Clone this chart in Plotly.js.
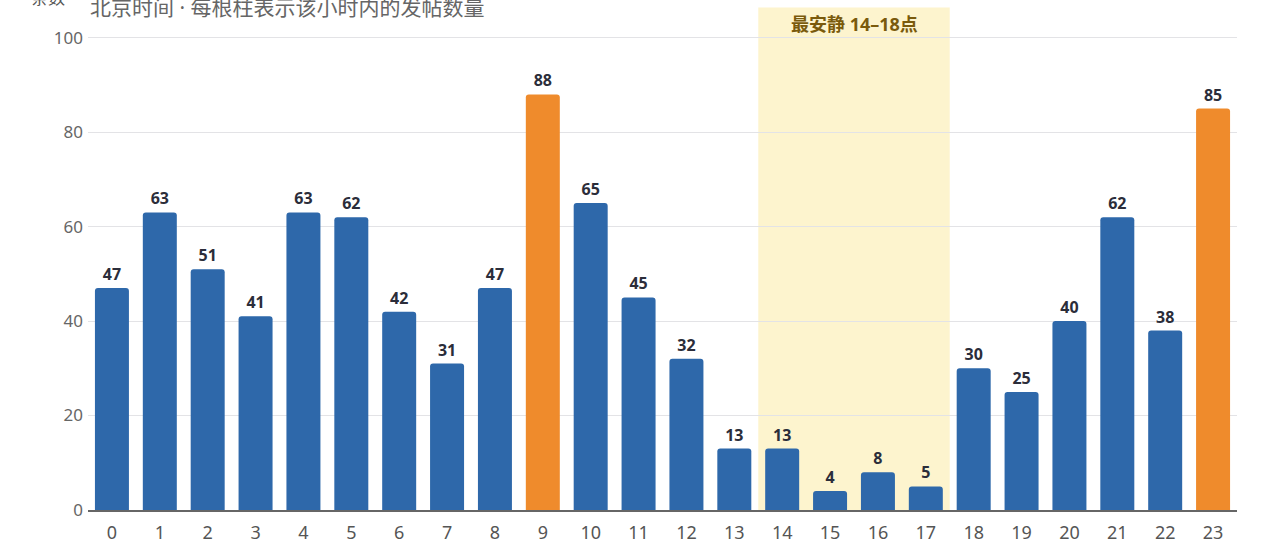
<!DOCTYPE html>
<html>
<head>
<meta charset="utf-8">
<script src="https://cdn.plot.ly/plotly-3.0.1.min.js"></script>
<style>
	html, body { margin: 0; padding: 0; background: #fff; overflow: hidden; }
	#plot { position: absolute; left: 0; top: -30px; width: 1280px; height: 620px; }
</style>
</head>
<body>
<div id="plot"></div>
<script>
const hours = ["0", "1", "2", "3", "4", "5", "6", "7", "8", "9", "10", "11",
	"12", "13", "14", "15", "16", "17", "18", "19", "20", "21", "22", "23"];
const posts = [47, 63, 51, 41, 63, 62, 42, 31, 47, 88, 65, 45,
	32, 13, 13, 4, 8, 5, 30, 25, 40, 62, 38, 85];
const peakHours = ["9", "23"];
const quietRange = [13.5, 17.5];
const quietTop = 106.4;
const quietLabel = "最安静 14–18点";
const yTicks = [0, 20, 40, 60, 80, 100];

const BLUE = "#2e68aa";
const ORANGE = "#ef8b2c";
const FONT = "Noto Sans, Noto Sans CJK SC, sans-serif";

const plotDiv = document.getElementById("plot");

const barColors = hours.map(h => (peakHours.includes(h) ? ORANGE : BLUE));

const data = [
	{
		type: "bar",
		x: hours,
		y: posts,
		marker: { color: barColors, cornerradius: 3 },
		text: posts.map(String),
		textposition: "outside",
		cliponaxis: false,
		textfont: { family: FONT, size: 16, color: "#2b2d3a", weight: 700 },
		showlegend: false,
		hoverinfo: "skip",
	},
	{
		type: "bar",
		x: [hours[0]],
		y: [0],
		name: "高峰时段（9点与23点）",
		marker: { color: ORANGE },
		visible: "legendonly",
	},
];

const layout = {
	width: 1280,
	height: 620,
	margin: { l: 88, r: 43, t: 37, b: 80 },
	paper_bgcolor: "#fff",
	plot_bgcolor: "#fff",
	bargap: 0.29,
	hovermode: false,
	font: { family: FONT, color: "#555" },
	xaxis: {
		type: "category",
		range: [-0.5, 23.5],
		tickfont: { size: 18, color: "#555" },
		showgrid: false,
		showline: true,
		linecolor: "#666",
		linewidth: 2,
		ticks: "",
		ticklabelstandoff: 5,
		zeroline: false,
		fixedrange: true,
	},
	yaxis: {
		range: [0, 106.5],
		tickvals: yTicks,
		tickfont: { size: 17, color: "#666" },
		gridcolor: "#e3e3e6",
		gridwidth: 1,
		zeroline: false,
		showline: false,
		ticks: "",
		ticklabelstandoff: 4,
		fixedrange: true,
	},
	showlegend: true,
	legend: {
		orientation: "h",
		x: -0.012,
		xanchor: "left",
		y: -0.064,
		yanchor: "top",
		font: { size: 15, color: "#555" },
		itemclick: false,
	},
	shapes: [
		{
			type: "rect",
			xref: "x",
			yref: "y",
			x0: quietRange[0],
			x1: quietRange[1],
			y0: 0,
			y1: quietTop,
			fillcolor: "#fdf2c6",
			opacity: 0.85,
			line: { width: 0 },
			layer: "below",
		},
	],
	annotations: [
		{
			text: quietLabel,
			xref: "x",
			yref: "y",
			x: (quietRange[0] + quietRange[1]) / 2,
			y: 102.8,
			showarrow: false,
			font: { family: FONT, size: 18, color: "#7a5a0c", weight: 700 },
		},
		{
			text: "条数",
			xref: "paper",
			yref: "paper",
			x: -0.018,
			xanchor: "right",
			y: 1.018,
			yanchor: "middle",
			showarrow: false,
			font: { family: FONT, size: 17, color: "#555" },
		},
		{
			text: "北京时间 · 每根柱表示该小时内的发帖数量",
			xref: "paper",
			yref: "paper",
			x: 0,
			xanchor: "left",
			y: 1.0,
			yanchor: "middle",
			showarrow: false,
			font: { family: FONT, size: 21, color: "#666" },
		},
		{
			text: "数据按小时汇总 · 单位：条",
			xref: "paper",
			yref: "paper",
			x: 0.695,
			xanchor: "left",
			y: -0.07,
			yanchor: "top",
			showarrow: false,
			font: { family: FONT, size: 15, color: "#777" },
		},
	],
};

Plotly.newPlot(plotDiv, data, layout, { displayModeBar: false, staticPlot: true });
</script>
</body>
</html>
